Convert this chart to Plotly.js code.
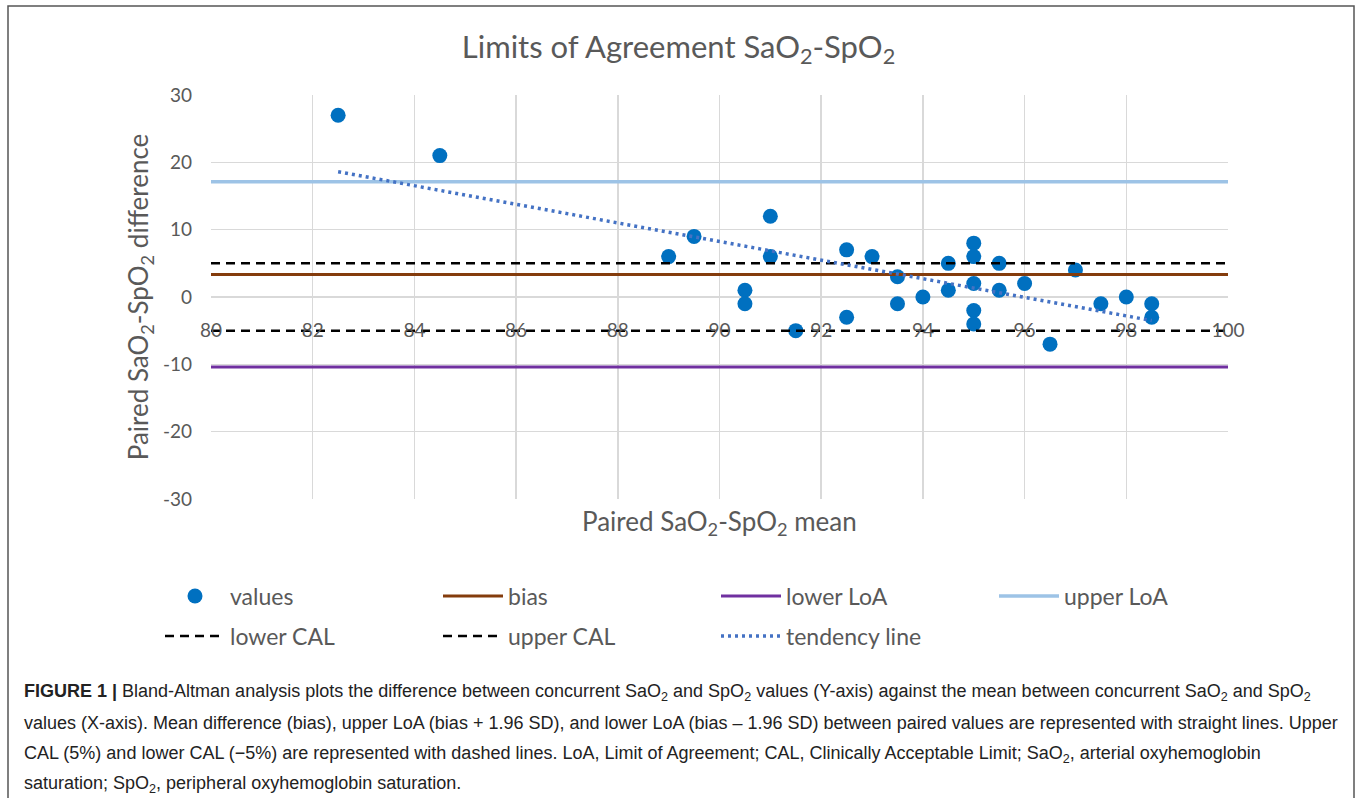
<!DOCTYPE html>
<html>
<head>
<meta charset="utf-8">
<script src="https://cdn.plot.ly/plotly-3.0.1.min.js"></script>
<style>
html,body{margin:0;padding:0;background:#fff;}
#chart{width:1357px;height:798px;}
</style>
</head>
<body>
<div id="chart"></div>
<script>
// Data
var meanX = [82.5, 84.5, 89, 89.5, 90.5, 90.5, 91, 91, 91.5, 92.5, 92.5, 93, 93.5, 93.5, 94, 94.5, 94.5, 95, 95, 95, 95, 95, 95.5, 95.5, 96, 96.5, 97, 97.5, 98, 98.5, 98.5];
var diffY = [27, 21, 6, 9, 1, -1, 12, 6, -5, 7, -3, 6, 3, -1, 0, 5, 1, 8, 6, 2, -2, -4, 5, 1, 2, -7, 4, -1, 0, -1, -3];
var lineX = [80, 100];
var biasVal = 3.35;
var lowerLoA = -10.4;
var upperLoA = 17.1;
var lowerCAL = -5;
var upperCAL = 5;
var trendX = [82.5, 98.5];
var trendY = [18.6, -3.5];
var xTicks = [80, 82, 84, 86, 88, 90, 92, 94, 96, 98, 100];
var yTicks = [-30, -20, -10, 0, 10, 20, 30];

var captionLines = [
  "<b>FIGURE 1 |</b> Bland-Altman analysis plots the difference between concurrent SaO<sub>2</sub> and SpO<sub>2</sub> values (Y-axis) against the mean between concurrent SaO<sub>2</sub> and SpO<sub>2</sub>",
  "values (X-axis). Mean difference (bias), upper LoA (bias + 1.96 SD), and lower LoA (bias \u2013 1.96 SD) between paired values are represented with straight lines. Upper",
  "CAL (5%) and lower CAL (\u22125%) are represented with dashed lines. LoA, Limit of Agreement; CAL, Clinically Acceptable Limit; SaO<sub>2</sub>, arterial oxyhemoglobin",
  "saturation; SpO<sub>2</sub>, peripheral oxyhemoglobin saturation."
];

function flat(v){ return lineX.map(function(){ return v; }); }

var traces = [
  {x: meanX, y: diffY, mode: 'markers', type: 'scatter', name: 'values',
   marker: {color: '#0070c0', size: 15}, legend: 'legend'},
  {x: lineX, y: flat(biasVal), mode: 'lines', type: 'scatter', name: 'bias',
   line: {color: '#843c0c', width: 3}, legend: 'legend'},
  {x: lineX, y: flat(lowerLoA), mode: 'lines', type: 'scatter', name: 'lower LoA',
   line: {color: '#7030a0', width: 3}, legend: 'legend'},
  {x: lineX, y: flat(upperLoA), mode: 'lines', type: 'scatter', name: 'upper LoA',
   line: {color: '#9dc3e6', width: 3.5}, legend: 'legend'},
  {x: lineX, y: flat(lowerCAL), mode: 'lines', type: 'scatter', name: 'lower CAL',
   line: {color: '#000000', width: 2.5, dash: '9px,6px'}, legend: 'legend2'},
  {x: lineX, y: flat(upperCAL), mode: 'lines', type: 'scatter', name: 'upper CAL',
   line: {color: '#000000', width: 2.5, dash: '9px,6px'}, legend: 'legend2'},
  {x: trendX, y: trendY, mode: 'lines', type: 'scatter', name: 'tendency line',
   line: {color: '#4472c4', width: 3.5, dash: '3px,4px'}, legend: 'legend2'}
];

var PL = 211, PR = 1228, PT = 95, PB = 499, W = 1357, H = 798;
function px(x){ return (x - PL) / (PR - PL); }
function py(y){ return (PB - y) / (PB - PT); }

var gray = '#595959';
var annotations = captionLines.map(function(t, i){
  var ys = [692, 723, 754, 784];
  return {text: t, xref: 'paper', yref: 'paper', x: px(22), y: py(ys[i]),
          xanchor: 'left', yanchor: 'middle', showarrow: false, align: 'left',
          font: {family: 'Liberation Sans, Arial, sans-serif', size: 18, color: '#222'}};
});
annotations.push({text: 'Paired SaO<sub>2</sub>-SpO<sub>2</sub> mean', xref: 'paper', yref: 'paper',
  x: 0.5, y: py(522), xanchor: 'center', yanchor: 'middle', showarrow: false,
  font: {family: 'Lato, sans-serif', size: 26, color: gray}});

var legendCommon = {orientation: 'h', xanchor: 'left', yanchor: 'middle',
  entrywidth: 203, entrywidthmode: 'pixels', itemwidth: 60, traceorder: 'normal',
  font: {family: 'Lato, sans-serif', size: 23, color: gray}, bgcolor: 'rgba(0,0,0,0)'};

var layout = {
  width: W, height: H,
  margin: {l: PL, r: W - PR, t: PT, b: H - PB, pad: 0},
  paper_bgcolor: '#fff', plot_bgcolor: '#fff',
  showlegend: true,
  title: {text: 'Limits of Agreement SaO<sub>2</sub>-SpO<sub>2</sub>', x: 0.5, xanchor: 'center',
          y: 1 - 47 / H, yanchor: 'middle',
          font: {family: 'Lato, sans-serif', size: 31, color: gray}},
  xaxis: {range: [80, 100], tickvals: xTicks, ticktext: xTicks.map(String),
          showgrid: true, gridcolor: '#d9d9d9', gridwidth: 1.5,
          zeroline: false, showline: false, anchor: 'free', position: 0.5,
          ticks: '', ticklabelstandoff: 20,
          tickfont: {family: 'Lato, sans-serif', size: 19, color: gray}},
  yaxis: {range: [-30, 30], tickvals: yTicks, ticktext: yTicks.map(String),
          showgrid: true, gridcolor: '#d9d9d9', gridwidth: 1.5,
          zeroline: false, showline: false, ticks: '', ticklabelstandoff: 18,
          tickfont: {family: 'Lato, sans-serif', size: 19, color: gray},
          title: {text: 'Paired SaO<sub>2</sub>-SpO<sub>2</sub> difference', standoff: 6,
                  font: {family: 'Lato, sans-serif', size: 26, color: gray}}},
  legend: Object.assign({}, legendCommon, {x: px(160), y: py(596)}),
  legend2: Object.assign({}, legendCommon, {x: px(160), y: py(636)}),
  annotations: annotations,
  shapes: [{type: 'rect', xref: 'paper', yref: 'paper',
            x0: px(8), x1: px(1354), y0: py(820), y1: py(6),
            line: {color: '#555', width: 1.5}, fillcolor: 'rgba(0,0,0,0)', layer: 'below'}]
};

Plotly.newPlot('chart', traces, layout, {displayModeBar: false, staticPlot: true});
</script>
</body>
</html>
